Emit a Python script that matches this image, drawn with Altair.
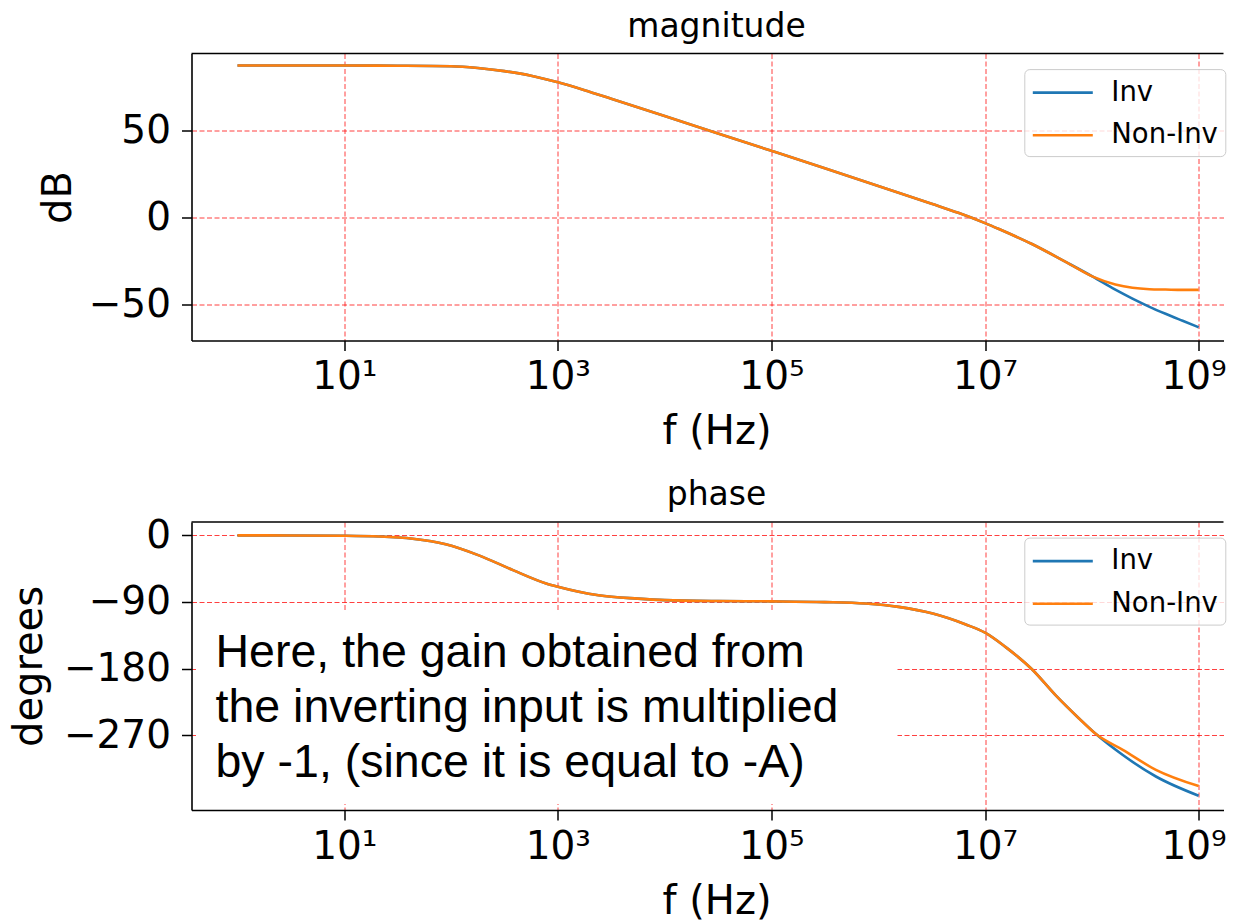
import altair as alt
import pandas as pd

# ---------------- data ----------------
mag_freq_hz = [1, 3.16, 10, 31.6, 100, 178, 316, 562, 1000, 1780, 3160, 1e4,
               3.16e4, 1e5, 3.16e5, 1e6, 3.16e6, 5.62e6, 1e7, 1.35e7, 2.75e7,
               5.75e7, 1.02e8, 1.66e8, 2.40e8, 3.47e8, 4.90e8, 7.08e8, 1e9]
mag_inv_db = [87.0, 87.0, 87.0, 86.9, 86.6, 85.6, 83.8, 81.2, 77.4, 72.9, 68.0, 58.1,
              48.1, 38.1, 28.1, 18.0, 7.8, 2.6, -3.3, -6.7, -15.3,
              -25.7, -34.0, -41.5, -46.6, -51.3, -55.3, -59.3, -63.0]
mag_noninv_db = [87.0, 87.0, 87.0, 86.9, 86.6, 85.6, 83.8, 81.2, 77.4, 72.9, 68.0, 58.1,
                 48.1, 38.1, 28.1, 18.0, 7.8, 2.6, -3.3, -6.7, -15.3,
                 -25.7, -34.0, -38.5, -40.4, -41.2, -41.4, -41.6, -41.6]

phase_freq_hz = [1, 3.16, 10, 21.4, 43.7, 89.1, 182, 380, 776, 1000, 2400, 5620,
                 1e4, 3.16e4, 1e5, 3.16e5, 7.59e5, 1.55e6, 3.24e6, 6.61e6, 1e7,
                 1.55e7, 2.75e7, 4.57e7, 7.59e7, 1.10e8, 1.95e8, 3.98e8, 1e9]
phase_inv_deg = [0, -0.1, -0.5, -1.5, -4.5, -12, -27, -47, -65, -69.5, -81, -85.5,
                 -87.5, -88.8, -89.2, -90.2, -92.2, -96.7, -105.7, -120.5, -131.5,
                 -150.7, -181, -216, -247.5, -269, -297, -326, -352]
phase_noninv_deg = [0, -0.1, -0.5, -1.5, -4.5, -12, -27, -47, -65, -69.5, -81, -85.5,
                    -87.5, -88.8, -89.2, -90.2, -92.2, -96.7, -105.7, -120.5, -131.5,
                    -150.7, -181, -216, -247.5, -269, -290, -317, -339]

series_names = ["Inv", "Non-Inv"]
series_colors = ["#1f77b4", "#ff7f0e"]
x_tick_values = [1e1, 1e3, 1e5, 1e7, 1e9]
x_tick_labels = ["10\u00b9", "10\u00b3", "10\u2075", "10\u2077", "10\u2079"]
mag_ticks = [-50, 0, 50]
phase_ticks = [0, -90, -180, -270]
panel_titles = ["magnitude", "phase"]
annotation_lines = ["Here, the gain obtained from",
                    "the inverting input is multiplied",
                    "by -1, (since it is equal to -A)"]

# ---------------- helpers ----------------
def long_table(freq, a, b):
    return pd.DataFrame({
        "f": list(freq) + list(freq),
        "v": list(a) + list(b),
        "s": [series_names[0]] * len(freq) + [series_names[1]] * len(freq),
    })

label_expr = " : ".join(
    f"datum.value == {v:g} ? '{t}'" for v, t in zip(x_tick_values, x_tick_labels)
) + " : ''"

X_DOMAIN = [0.371, 1.71e9]
PLOT_W = 1032
TITLE_X = 525
FONT = "DejaVu Sans"
one_row = pd.DataFrame({"k": [0]})


def panel(df, ytitle, ydomain, yticks, ytitle_pad, title, height, under=()):
    lines = alt.Chart(df).mark_line(strokeWidth=2.6, interpolate="monotone").encode(
        x=alt.X("f:Q", scale=alt.Scale(type="log", domain=X_DOMAIN, nice=False),
                axis=alt.Axis(values=x_tick_values, labelExpr=label_expr,
                              title="f (Hz)", titleX=TITLE_X, labelPadding=7,
                              titlePadding=15, labelFlush=False, labelOverlap=False,
                              labelOffset=alt.condition("datum.value == 1e9",
                                                        alt.value(-5), alt.value(0)))),
        y=alt.Y("v:Q",
                scale=alt.Scale(domain=ydomain, nice=False, zero=False),
                axis=alt.Axis(values=yticks, title=ytitle, labelPadding=11,
                              titlePadding=ytitle_pad, labelFlush=False)),
        color=alt.Color("s:N",
                        scale=alt.Scale(domain=series_names, range=series_colors),
                        legend=alt.Legend(title=None, orient="none",
                                          legendX=832.8, legendY=15.6)),
    )
    top_edge = alt.Chart(one_row).mark_rule(color="black", strokeWidth=1.6).encode(
        x=alt.value(0), x2=alt.value(PLOT_W), y=alt.value(0)
    )
    head = alt.Chart(one_row).mark_text(
        font=FONT, fontSize=33, align="center", baseline="alphabetic", color="black"
    ).encode(x=alt.value(TITLE_X), y=alt.value(-16.7), text=alt.value(title))
    return alt.layer(*under, lines, top_edge, head).properties(width=PLOT_W, height=height)


mag_df = long_table(mag_freq_hz, mag_inv_db, mag_noninv_db)
phase_df = long_table(phase_freq_hz, phase_inv_deg, phase_noninv_deg)

box = alt.Chart(one_row).mark_rect(color="white", opacity=1).encode(
    x=alt.value(4.5), x2=alt.value(706), y=alt.value(90), y2=alt.value(282)
)
note = alt.Chart(one_row).mark_text(
    font="Liberation Sans", fontSize=46.5, align="left", baseline="alphabetic",
    lineHeight=55, color="black"
).encode(x=alt.value(24), y=alt.value(145), text=alt.value(annotation_lines))

top = panel(mag_df, "dB", [-70.6, 93.9], mag_ticks, 10, panel_titles[0], 287)
bottom = panel(phase_df, "degrees", [-371.3, 18.1], phase_ticks, 14.3, panel_titles[1], 288,
               under=(box, note))

chart = alt.vconcat(top, bottom, spacing=27.5).resolve_legend(
    color="independent"
).properties(
    padding={"left": 0.5, "top": 2.5, "right": 0, "bottom": 0}
).configure_axis(
    grid=True, gridColor="#ff0000", gridDash=[5, 2.5], gridWidth=1, gridOpacity=0.75,
    domain=True, domainColor="black", domainWidth=1.6,
    tickColor="black", tickSize=10, tickWidth=1.5,
    labelFont=FONT, labelFontSize=39, labelColor="black",
    titleFont=FONT, titleFontSize=40, titleFontWeight="normal", titleColor="black",
).configure_view(
    strokeWidth=0
).configure_legend(
    fillColor="rgba(255,255,255,0.8)", strokeColor="#cccccc", cornerRadius=5,
    padding=7, labelFont=FONT, labelFontSize=27.5, labelColor="black",
    symbolType="M-1,0H3", symbolStrokeWidth=2.6, symbolSize=900,
    symbolFillColor="transparent", labelOffset=47, rowPadding=12.7,
)

chart.save("out.html", embed_options={"renderer": "svg", "actions": False})
